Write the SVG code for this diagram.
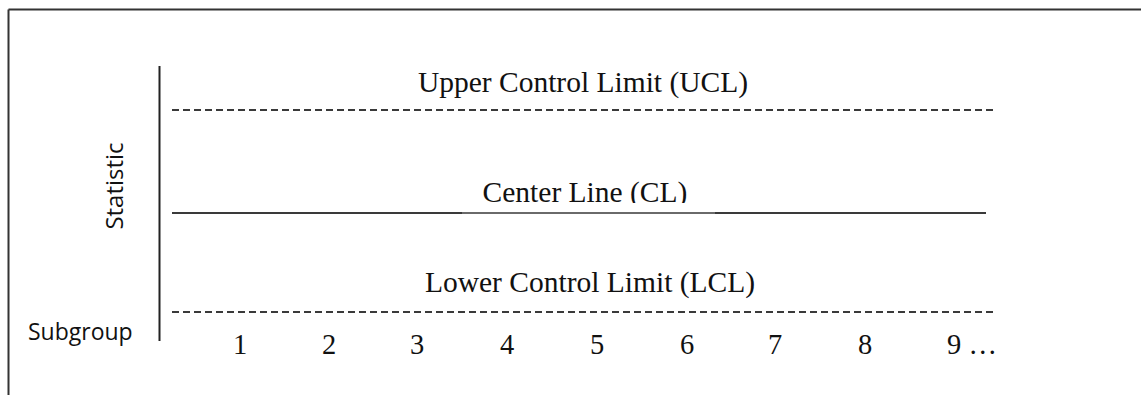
<svg xmlns="http://www.w3.org/2000/svg" width="1141" height="395" viewBox="0 0 1141 395">
<defs>
<style>
.serif{font-family:"Liberation Serif","Times New Roman",serif;fill:#111;}
.sans{font-family:"Open Sans","Liberation Sans",sans-serif;fill:#111;}
.dash{stroke:#3a3a3a;stroke-width:2.2;stroke-dasharray:7 4;fill:none;}
.solid{stroke:#3a3a3a;stroke-width:2.2;fill:none;}
</style>
<clipPath id="clClip"><rect x="400" y="150" width="400" height="53"/></clipPath>
</defs>
<rect width="1141" height="395" fill="#fff"/>
<g id="frame">
<line x1="8.5" y1="9.5" x2="1141" y2="9.5" stroke="#333" stroke-width="2"/>
<line x1="8.5" y1="9.5" x2="8.5" y2="395" stroke="#333" stroke-width="2"/>
</g>
<g id="axis">
<line x1="159.5" y1="66" x2="159.5" y2="341" stroke="#222" stroke-width="2"/>
<text class="sans" font-size="24" transform="translate(123,186) rotate(-90)" text-anchor="middle">Statistic</text>
<text class="sans" font-size="23" x="28" y="340">Subgroup</text>
</g>
<g id="connectors">
<line id="ucl-line" class="dash" x1="172" y1="110" x2="996" y2="110"/>
<line class="solid" x1="172" y1="213" x2="462" y2="213"/>
<line stroke="#6a6a6a" stroke-width="2.2" x1="462" y1="213" x2="715" y2="213"/>
<line class="solid" x1="715" y1="213" x2="986" y2="213"/>
<line id="lcl-line" class="dash" x1="172" y1="312" x2="996" y2="312"/>
</g>
<g id="ucl">
<text class="serif" font-size="29.5" x="583" y="92" text-anchor="middle">Upper Control Limit (UCL)</text>
</g>
<g id="cl">
<text class="serif" font-size="29.5" x="585" y="202" text-anchor="middle" clip-path="url(#clClip)">Center Line (CL)</text>
</g>
<g id="lcl">
<text class="serif" font-size="29.5" x="590" y="292" text-anchor="middle">Lower Control Limit (LCL)</text>
</g>
<g id="subgroups" class="serif" font-size="28.5" text-anchor="middle">
<text x="240" y="354">1</text>
<text x="329" y="354">2</text>
<text x="417" y="354">3</text>
<text x="507" y="354">4</text>
<text x="597" y="354">5</text>
<text x="687" y="354">6</text>
<text x="775" y="354">7</text>
<text x="865" y="354">8</text>
<text x="947" y="354" text-anchor="start">9 …</text>
</g>
</svg>
